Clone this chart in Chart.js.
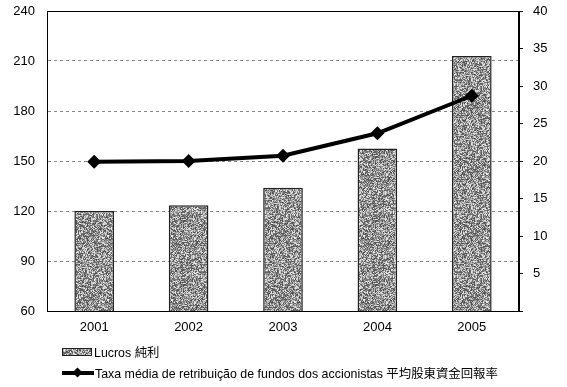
<!DOCTYPE html>
<html>
<head>
<meta charset="utf-8">
<script src="https://cdn.jsdelivr.net/npm/chart.js@4"></script>
<style>
body { margin: 0; background: #fff; }
#wrap { position: relative; width: 567px; height: 387px; }
#legend { position: absolute; left: 62px; top: 341px; font: 12.4px "Liberation Sans", Arial, "Noto Sans CJK TC", sans-serif; color: #000; }
.row { height: 21px; display: flex; align-items: center; }
.swatch { width: 30px; height: 8px; border: 1px solid #222; margin-right: 2px; box-sizing: border-box; }
.lineicon { position: relative; width: 32px; height: 10px; margin-right: 1px; }
.lineicon .bar { position: absolute; left: 0; right: 0; top: 3px; height: 4px; background: #000; }
.lineicon .dia { position: absolute; left: 12px; top: 1px; width: 7px; height: 7px; background: #000; transform: rotate(45deg); }
</style>
</head>
<body>
<div id="wrap">
  <canvas id="chart" width="567" height="387"></canvas>
  <div id="legend">
    <div class="row"><div class="swatch" id="sw"></div><span id="lab0"></span></div>
    <div class="row"><div class="lineicon"><div class="bar"></div><div class="dia"></div></div><span id="lab1"></span></div>
  </div>
</div>
<script>
// 数据
const years = ['2001', '2002', '2003', '2004', '2005'];
const profit = [120, 123.5, 134, 157.5, 213];      // Lucros 純利 (left axis)
const returnRate = [19.9, 20.0, 20.7, 23.7, 28.7];  // 平均股東資金回報率 (right axis)
const seriesNames = ['Lucros 純利', 'Taxa média de retribuição de fundos dos accionistas 平均股東資金回報率'];

const FONT = '"Liberation Sans", Arial, "Noto Sans CJK TC", sans-serif';

// speckled grey texture for the bars (deterministic noise)
function makeTexture() {
    const c = document.createElement('canvas');
    c.width = 64; c.height = 64;
    const g = c.getContext('2d');
    const img = g.createImageData(64, 64);
    let seed = 12345;
    function rnd() { seed = (seed * 1103515245 + 12345) & 0x7fffffff; return seed / 0x7fffffff; }
    for (let i = 0; i < 64 * 64; i++) {
        const r = rnd();
        let v = r < 0.45 ? 70 + rnd() * 60 : 140 + rnd() * 100;
        img.data[i * 4] = v; img.data[i * 4 + 1] = v; img.data[i * 4 + 2] = v; img.data[i * 4 + 3] = 255;
    }
    g.putImageData(img, 0, 0);
    return c;
}
const tex = makeTexture();
const ctx = document.getElementById('chart').getContext('2d');
const barPattern = ctx.createPattern(tex, 'repeat');

document.getElementById('sw').style.background = 'url(' + tex.toDataURL() + ')';
document.getElementById('lab0').textContent = seriesNames[0];
document.getElementById('lab1').textContent = seriesNames[1];

// frame around the plot area
const framePlugin = {
    id: 'frame',
    afterDatasetsDraw(chart) {
        const a = chart.chartArea, c = chart.ctx;
        c.save();
        c.strokeStyle = '#000';
        c.lineWidth = 1;
        c.strokeRect(a.left + 0.5, a.top + 0.5, a.right - a.left - 1, a.bottom - a.top);
        c.restore();
    }
};

function fixY(width) {
    return function (s) {
        s.width = width;
        s.paddingTop = 0;
        s.paddingBottom = 0;
    };
}

new Chart(ctx, {
    data: {
        labels: years,
        datasets: [
            {
                type: 'line',
                label: seriesNames[1],
                data: returnRate,
                yAxisID: 'y1',
                borderColor: '#000',
                backgroundColor: '#000',
                borderWidth: 4,
                pointStyle: 'rectRot',
                pointRadius: 7,
                pointBorderWidth: 0,
                tension: 0,
                order: 0
            },
            {
                type: 'bar',
                label: seriesNames[0],
                data: profit,
                yAxisID: 'y',
                backgroundColor: barPattern,
                borderColor: '#222',
                borderWidth: 1.5,
                barPercentage: 0.42,
                categoryPercentage: 1,
                order: 1
            }
        ]
    },
    options: {
        responsive: false,
        animation: false,
        layout: { padding: { top: 11, bottom: 46, left: 0, right: 0 } },
        plugins: { legend: { display: false }, tooltip: { enabled: false } },
        scales: {
            x: {
                grid: { display: false, drawTicks: false },
                border: { color: '#000', width: 1 },
                ticks: { color: '#000', font: { family: FONT, size: 13 }, padding: 9 },
                afterFit(s) { s.height = 30; s.paddingLeft = 0; s.paddingRight = 0; }
            },
            y: {
                position: 'left',
                min: 60, max: 240,
                grid: { color: '#888', lineWidth: 1, drawTicks: false },
                border: { color: '#000', dash: [3, 3] },
                ticks: { stepSize: 30, color: '#000', font: { family: FONT, size: 13 }, padding: 12 },
                afterFit: fixY(47)
            },
            y1: {
                position: 'right',
                min: 0, max: 40,
                grid: { drawOnChartArea: false, drawTicks: true, tickLength: 4, color: '#000' },
                border: { color: '#000' },
                ticks: {
                    stepSize: 5, color: '#000', font: { family: FONT, size: 13 }, padding: 10,
                    callback: v => (v === 0 ? '' : v)
                },
                afterFit: fixY(48)
            }
        }
    },
    plugins: [framePlugin]
});
</script>
</body>
</html>
